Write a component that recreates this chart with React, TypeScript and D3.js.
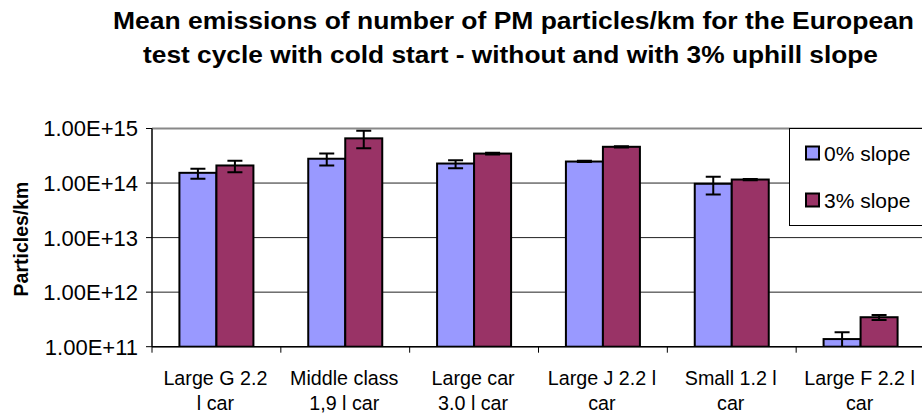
import React from "react";
import * as d3 from "d3";

// Vehicles (two-line labels)
const categories: string[][] = [
  ["Large G 2.2", "l car"],
  ["Middle class", "1,9 l car"],
  ["Large car", "3.0 l car"],
  ["Large J 2.2 l", "car"],
  ["Small 1.2 l", "car"],
  ["Large F 2.2 l", "car"],
];

const seriesNames = ["0% slope", "3% slope"];
const seriesColors = ["#9999FF", "#993366"];

// Mean particle number per km
const slope0 = [1.54e14, 2.79e14, 2.28e14, 2.48e14, 9.7e13, 1.38e11];
const slope3 = [2.1e14, 6.6e14, 3.47e14, 4.62e14, 1.16e14, 3.47e11];

// Error bar limits
const slope0Low = [1.2e14, 2.1e14, 1.87e14, 2.42e14, 6.2e13, 9.2e10];
const slope0High = [1.82e14, 3.47e14, 2.63e14, 2.55e14, 1.3e14, 1.84e11];
const slope3Low = [1.58e14, 4.36e14, 3.35e14, 4.5e14, 1.13e14, 3.1e11];
const slope3High = [2.57e14, 9.1e14, 3.6e14, 4.75e14, 1.19e14, 3.8e11];

const yTicks = [1e11, 1e12, 1e13, 1e14, 1e15];

const titleLines = [
  "Mean emissions of number of PM particles/km for the European",
  "test cycle with cold start - without and with 3% uphill slope",
];

const W = 922;
const H = 415;
const left = 152;
const right = 925;
const top = 128.5;
const bottom = 346.7;
const FONT = "'Liberation Sans', Arial, sans-serif";

export default function App() {
  const x0 = d3
    .scaleBand<number>()
    .domain(d3.range(categories.length))
    .range([left, right])
    .padding(0);
  const bw = x0.bandwidth();
  const gap = bw * 0.2128;
  const x1 = d3.scaleBand<number>().domain([0, 1]).range([gap, bw - gap]).padding(0);
  const y = d3.scaleLog().domain([1e11, 1e15]).range([bottom, top]);

  const values = [slope0, slope3];
  const lows = [slope0Low, slope3Low];
  const highs = [slope0High, slope3High];

  const fmt = (v: number) => {
    const e = Math.round(Math.log10(v));
    return `1.00E+${e}`;
  };

  return (
    <svg
      width={W}
      height={H}
      style={{ position: "absolute", left: 0, top: 0, background: "#fff" }}
      fontFamily={FONT}
    >
      <defs>
        <clipPath id="plotClip">
          <rect x={left} y={top - 10} width={right - left} height={bottom - top + 10} />
        </clipPath>
      </defs>
      {/* Title */}
      <text x={113} y={29} fontSize={23.5} fontWeight="bold" textLength={801} lengthAdjust="spacingAndGlyphs">
        {titleLines[0]}
      </text>
      <text x={143} y={63} fontSize={23.5} fontWeight="bold" textLength={735} lengthAdjust="spacingAndGlyphs">
        {titleLines[1]}
      </text>

      {/* Gridlines */}
      {yTicks.map((t) => (
        <line key={t} x1={left} x2={right} y1={y(t)} y2={y(t)} stroke="#222" strokeWidth={1} />
      ))}
      {/* Plot area top border */}
      <line x1={left} x2={right} y1={top} y2={top} stroke="#888" strokeWidth={2} />

      {/* Bars */}
      <g clipPath="url(#plotClip)">
        {categories.map((_, i) =>
          values.map((vals, s) => {
            const bx = x0(i)! + x1(s)!;
            const w = x1.bandwidth();
            const yt = y(vals[i]);
            return (
              <rect
                key={`b${i}-${s}`}
                x={bx}
                y={yt}
                width={w}
                height={bottom - yt}
                fill={seriesColors[s]}
                stroke="#000"
                strokeWidth={2}
              />
            );
          })
        )}
        {/* Error bars */}
        {categories.map((_, i) =>
          values.map((_v, s) => {
            const cx = x0(i)! + x1(s)! + x1.bandwidth() / 2;
            const yl = y(lows[s][i]);
            const yh = y(highs[s][i]);
            return (
              <g key={`e${i}-${s}`} stroke="#000" strokeWidth={2}>
                <line x1={cx} x2={cx} y1={yl} y2={yh} />
                <line x1={cx - 7.5} x2={cx + 7.5} y1={yh} y2={yh} />
                <line x1={cx - 7.5} x2={cx + 7.5} y1={yl} y2={yl} />
              </g>
            );
          })
        )}
      </g>

      {/* Axes */}
      <line x1={left} x2={left} y1={top} y2={bottom} stroke="#000" strokeWidth={1.5} />
      <line x1={left} x2={right} y1={bottom} y2={bottom} stroke="#000" strokeWidth={1.5} />
      {yTicks.map((t) => (
        <g key={`yt${t}`}>
          <line x1={left - 6} x2={left} y1={y(t)} y2={y(t)} stroke="#000" strokeWidth={1} />
          <text x={138} y={y(t)} dy="0.36em" textAnchor="end" fontSize={22}>
            {fmt(t)}
          </text>
        </g>
      ))}
      {d3.range(categories.length + 1).map((i) => {
        const xx = left + i * bw;
        return <line key={`xt${i}`} x1={xx} x2={xx} y1={bottom} y2={bottom + 6} stroke="#000" strokeWidth={1} />;
      })}
      {categories.map((lines, i) => (
        <text key={`xl${i}`} textAnchor="middle" fontSize={19.7}>
          {lines.map((l, k) => (
            <tspan key={k} x={x0(i)! + bw / 2 - 1} y={385 + k * 25}>
              {l}
            </tspan>
          ))}
        </text>
      ))}

      {/* Y axis title */}
      <text transform={`translate(28,239) rotate(-90)`} textAnchor="middle" fontSize={19.5} fontWeight="bold">
        Particles/km
      </text>

      {/* Legend */}
      <rect x={789.5} y={128.5} width={140} height={97} fill="#fff" stroke="#000" strokeWidth={1} />
      {seriesNames.map((n, s) => {
        const cy = 153 + s * 47;
        return (
          <g key={n}>
            <rect x={806} y={cy - 6.5} width={13} height={13} fill={seriesColors[s]} stroke="#000" strokeWidth={2} />
            <text x={824} y={cy} dy="0.36em" fontSize={21}>
              {n}
            </text>
          </g>
        );
      })}
    </svg>
  );
}
